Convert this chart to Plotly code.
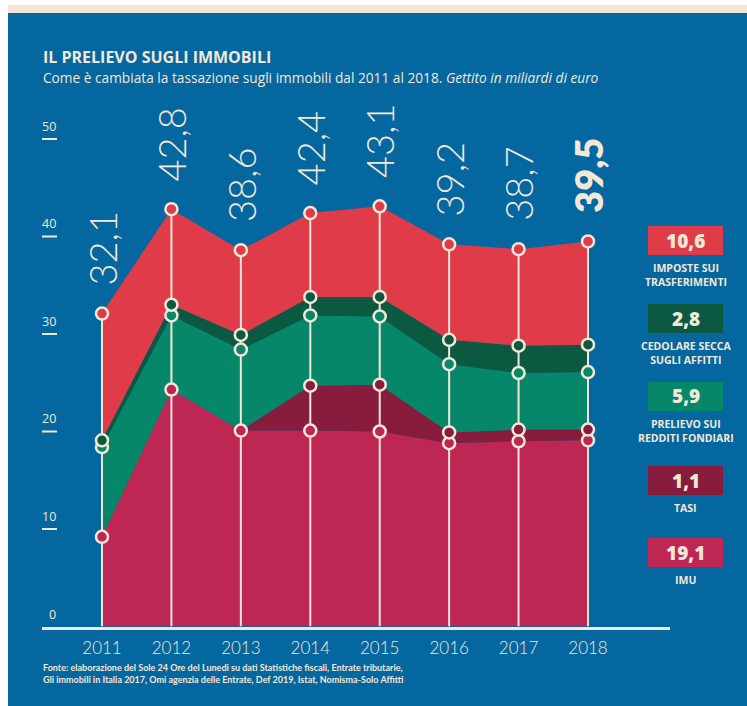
import numpy as np
import plotly.graph_objects as go

# Gettito in miliardi di euro
years = [2011, 2012, 2013, 2014, 2015, 2016, 2017, 2018]
imu = [9.2, 24.3, 20.1, 20.1, 20.0, 18.8, 19.0, 19.1]
tasi = [0.0, 0.0, 0.0, 4.6, 4.8, 1.1, 1.2, 1.1]
redditi_fondiari = [9.2, 7.6, 8.3, 7.2, 7.0, 7.0, 5.8, 5.9]
cedolare_secca = [0.7, 1.1, 1.5, 1.9, 2.0, 2.5, 2.8, 2.8]
imposte_trasferimenti = [13.0, 9.8, 8.7, 8.6, 9.3, 9.8, 9.9, 10.6]

series_labels = ["IMU", "TASI", "PRELIEVO SUI<br>REDDITI FONDIARI",
                 "CEDOLARE SECCA<br>SUGLI AFFITTI", "IMPOSTE SUI<br>TRASFERIMENTI"]
y_ticks = [0, 10, 20, 30, 40, 50]

W, H = 747, 706
BLUE = "#0467a0"
CREAM = "#f3e7d7"
PEACH = "#f6e4d6"
RED = "#e03b48"
DKGREEN = "#0b5940"
GREEN = "#07876a"
MAROON = "#881c3c"
CRIMSON = "#be2654"
LIGHT = "Lato"
SANS = "Open Sans"

layers = [imu, tasi, redditi_fondiari, cedolare_secca, imposte_trasferimenti]
colors = [CRIMSON, MAROON, GREEN, DKGREEN, RED]

def px(x):
    return x / W

def py(y):
    return 1 - y / H

def fmt(v):
    return f"{v:.1f}".replace(".", ",")

arr = np.array(layers, dtype=float)
cum = np.cumsum(arr, axis=0)
totals = cum[-1]

fig = go.Figure()

# stacked areas
for vals, col in zip(layers, colors):
    fig.add_trace(go.Scatter(
        x=years, y=vals, stackgroup="tax", mode="lines",
        line=dict(width=0, color=col), fillcolor=col,
        hoverinfo="skip", showlegend=False))

# vertical guide lines up to each year's total
vx, vy = [], []
for yr, tot in zip(years, totals):
    vx += [yr, yr, None]
    vy += [0, tot, None]
fig.add_trace(go.Scatter(x=vx, y=vy, mode="lines",
                         line=dict(color=CREAM, width=2),
                         hoverinfo="skip", showlegend=False))

# markers at the top of each layer (TASI only where it is collected)
for i, col in enumerate(colors):
    mask = arr[i] > 0 if i == 1 else np.ones(len(years), bool)
    fig.add_trace(go.Scatter(
        x=np.array(years)[mask], y=cum[i][mask], mode="markers",
        marker=dict(size=12, color=col, line=dict(color=CREAM, width=2.5)),
        hoverinfo="skip", showlegend=False, cliponaxis=False))

annotations = []
shapes = []

# background panels
shapes.append(dict(type="rect", xref="paper", yref="paper", x0=px(8), x1=1,
                   y0=py(5), y1=py(13), fillcolor=PEACH, line_width=0, layer="below"))
shapes.append(dict(type="rect", xref="paper", yref="paper", x0=px(8), x1=1,
                   y0=0, y1=py(13), fillcolor=BLUE, line_width=0, layer="below"))

# y tick labels with short underlines
for t in y_ticks:
    annotations.append(dict(x=px(58), xref="paper", y=t, yref="y", text=str(t),
                            showarrow=False, xanchor="right", yanchor="bottom",
                            yshift=2, font=dict(family=SANS, size=12.5, color=CREAM)))
    if t > 0:
        shapes.append(dict(type="line", xref="paper", yref="y", x0=px(42), x1=px(57),
                           y0=t, y1=t, line=dict(color=CREAM, width=2)))

# totals above each year
for k, (yr, tot) in enumerate(zip(years, totals)):
    last = k == len(years) - 1
    annotations.append(dict(x=yr, y=tot, xref="x", yref="y", text=fmt(tot),
                            showarrow=False, textangle=-90, xanchor="center",
                            yanchor="bottom", yshift=26,
                            font=dict(family=LIGHT, size=38, color=CREAM,
                                      weight=800 if last else 300)))

# side key with 2018 values
key_tops = [538, 466, 382, 304, 226]
for vals, col, lab, top in zip(layers, colors, series_labels, key_tops):
    shapes.append(dict(type="rect", xref="paper", yref="paper",
                       x0=px(648), x1=px(723), y0=py(top + 29), y1=py(top),
                       fillcolor=col, line_width=0))
    annotations.append(dict(x=px(685.5), y=py(top + 14.5), xref="paper", yref="paper",
                            text=fmt(vals[-1]), showarrow=False,
                            xanchor="center", yanchor="middle",
                            font=dict(family=SANS, size=19, color=CREAM, weight=800)))
    annotations.append(dict(x=px(685.5), y=py(top + 33), xref="paper", yref="paper",
                            text=f"<b>{lab}</b>", showarrow=False,
                            xanchor="center", yanchor="top", align="center",
                            font=dict(family=SANS, size=10.5, color=CREAM)))

# heading
annotations.append(dict(x=px(41), y=py(57), xref="paper", yref="paper",
                        text="<b>IL PRELIEVO SUGLI IMMOBILI</b>", showarrow=False,
                        xanchor="left", yanchor="middle",
                        font=dict(family=SANS, size=16, color=CREAM)))
annotations.append(dict(x=px(41), y=py(78), xref="paper", yref="paper",
                        text="Come è cambiata la tassazione sugli immobili dal 2011 al 2018. "
                             "<i>Gettito in miliardi di euro</i>",
                        showarrow=False, xanchor="left", yanchor="middle",
                        font=dict(family=SANS, size=13.7, color=CREAM)))

# source note
annotations.append(dict(x=px(41), y=py(673), xref="paper", yref="paper",
                        text="<b>Fonte: elaborazione del Sole 24 Ore del Lunedi su dati Statistiche fiscali, "
                             "Entrate tributarie,<br>Gli immobili in Italia 2017, Omi agenzia delle Entrate, "
                             "Def 2019, Istat, Nomisma-Solo Affitti</b>",
                        showarrow=False, xanchor="left", yanchor="middle", align="left",
                        font=dict(family=LIGHT, size=9, color=CREAM)))

fig.update_layout(
    width=W, height=H,
    margin=dict(l=0, r=0, t=0, b=0),
    paper_bgcolor="white", plot_bgcolor="rgba(0,0,0,0)",
    showlegend=False,
    shapes=shapes, annotations=annotations,
    xaxis=dict(domain=[px(42), px(670)], range=[2010.136, 2019.181],
               tickvals=years, ticktext=[str(y) for y in years],
               showgrid=False, zeroline=False,
               showline=True, linecolor=CREAM, linewidth=3,
               ticks="outside", ticklen=4, tickcolor="rgba(0,0,0,0)",
               tickfont=dict(family=LIGHT, size=17, color=CREAM, weight=300)),
    yaxis=dict(domain=[(H - 626.5) / H, (H - 100) / H], range=[0, 54],
               showgrid=False, zeroline=False, showticklabels=False, showline=False),
)

fig.write_html("out.html")
